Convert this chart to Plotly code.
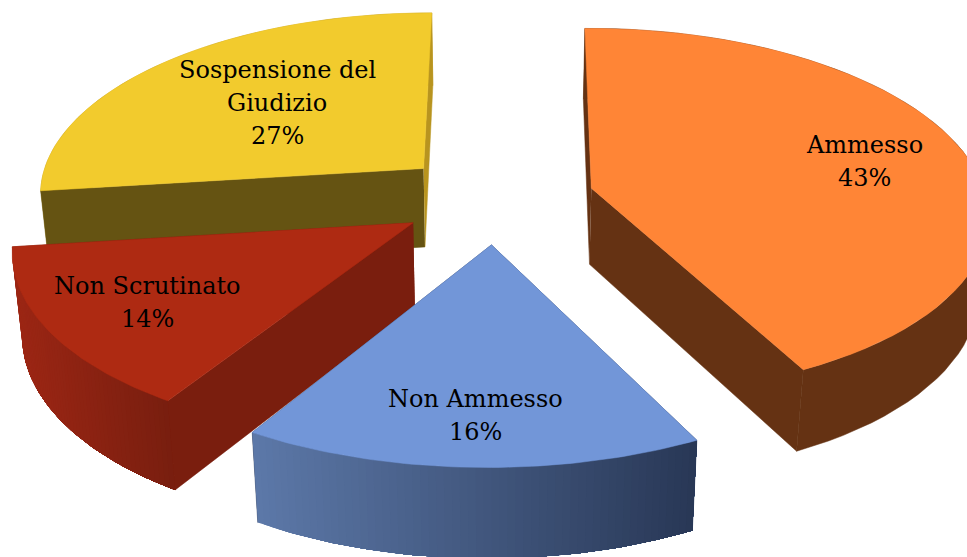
import numpy as np
import plotly.graph_objects as go

categories = ["Ammesso", "Non Ammesso", "Non Scrutinato", "Sospensione del<br>Giudizio"]
values = [43, 16, 14, 27]
top_colors = ["#FF8536", "#7296D8", "#AE2A12", "#F2CB2D"]
wall_colors = ["#653213", "#2A3A5C", "#7A1E0E", "#655312"]
arc_left = [(101, 50, 19), (92, 120, 168), (156, 38, 20), (190, 155, 30)]
arc_right = [(101, 50, 19), (40, 55, 85), (120, 30, 15), (190, 155, 30)]
label_xy = [(864, 161), (475, 415), (147, 302), (277, 103)]

# projection constants and per-slice layout corrections
CX, CY, A, B, K, M, PULL = 498, 198, 405, 182, 0.125, 0.02, 0.25
depth = [78, 84, 84, 81]
slice_nudge = [-0.012, 0.0, 0.005, 0.0]
arc_nudge = [0.025, -0.007, 0.013, 0.0]
arc_xscale = [0.95, 0.98, 0.975, 0.955]
arc_rot = [-0.015, -0.03, 0.0, 0.0]
LINE_PITCH = 33
W, HT = 967, 557


def proj(X, Y, Z, h):
    w = 1 + K * Y - M * Z
    return CX + A * X / w, CY - (B * Y + h * Z) / w


shares = np.array(values) / sum(values) * 2 * np.pi
ends = np.cumsum(shares)
starts = ends - shares
fig = go.Figure()


def poly(xs, ys, color, width=0.5):
    fig.add_trace(go.Scatter(x=list(xs), y=list(ys), mode="lines", fill="toself",
                             fillcolor=color, line=dict(color=color, width=width),
                             hoverinfo="skip", showlegend=False))


for i in [3, 2, 0, 1]:
    s, e = starts[i], ends[i]
    mid = (s + e) / 2
    mx, my = np.sin(mid), np.cos(mid)
    ox, oy = PULL * mx + slice_nudge[i], PULL * my
    th = np.linspace(s, e, 60) + arc_rot[i]
    ax = ox + arc_nudge[i] + arc_xscale[i] * np.sin(th)
    ay = oy + np.cos(th)
    zero = np.zeros_like(th)
    h = depth[i]

    def radial_wall(k):
        sx, sy = proj(np.array([ox, ax[k], ax[k], ox]), np.array([oy, ay[k], ay[k], oy]),
                      np.array([0.0, 0.0, -1.0, -1.0]), h)
        color = "#B8941F" if (i == 3 and k == -1) else wall_colors[i]
        poly(sx, sy, color)

    # a radial wall faces the viewer if the slice body lies behind it
    front, back = [], []
    for k, t in ((0, s), (-1, e)):
        dx, dy = np.sin(t), np.cos(t)
        dot = mx * dx + my * dy
        (front if my - dot * dy >= -1e-9 else back).append(k)
    for k in back:
        radial_wall(k)

    xt, yt = proj(ax, ay, zero, h)
    xb, yb = proj(ax, ay, zero - 1, h)
    if arc_left[i] == arc_right[i]:
        c = arc_left[i]
        poly(np.r_[xt, xb[::-1]], np.r_[yt, yb[::-1]], f"rgb({c[0]},{c[1]},{c[2]})")
    else:
        # painter's order: each band reaches to the right end of the wall, so no seams
        lo, hi = xt.min(), xt.max()
        order = np.argsort(xt)
        for n in range(len(order) - 1):
            idx = order[n:]
            f = (xt[order[n]] - lo) / (hi - lo)
            c = [round(arc_left[i][q] + (arc_right[i][q] - arc_left[i][q]) * f) for q in range(3)]
            poly(np.r_[xt[idx], xb[idx][::-1]], np.r_[yt[idx], yb[idx][::-1]],
                 f"rgb({c[0]},{c[1]},{c[2]})", width=0)
    for k in front:
        radial_wall(k)

    cx0, cy0 = proj(np.array([ox]), np.array([oy]), np.array([0.0]), h)
    poly(np.r_[cx0, xt, cx0], np.r_[cy0, yt, cy0], top_colors[i])

for cat, val, (lx, ly) in zip(categories, values, label_xy):
    lines = cat.split("<br>") + [f"{val}%"]
    for n, line in enumerate(lines):
        fig.add_annotation(x=lx, y=ly + (n - (len(lines) - 1) / 2) * LINE_PITCH, text=line,
                           showarrow=False, align="center", xanchor="center", yanchor="middle",
                           font=dict(family="DejaVu Serif", size=24, color="#000000"))

fig.update_layout(width=W, height=HT, margin=dict(l=0, r=0, t=0, b=0),
                  paper_bgcolor="white", plot_bgcolor="white", showlegend=False,
                  xaxis=dict(range=[0, W], visible=False, fixedrange=True),
                  yaxis=dict(range=[HT, 0], visible=False, fixedrange=True))
fig.write_html("out.html", config={"displayModeBar": False},
               post_script="document.body.style.margin='0';document.documentElement.style.overflow='hidden';")
